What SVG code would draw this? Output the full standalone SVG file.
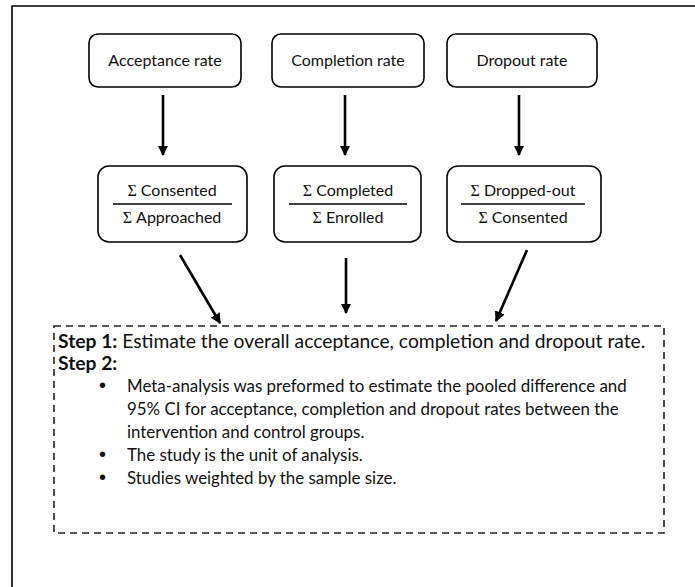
<svg xmlns="http://www.w3.org/2000/svg" width="695" height="587" viewBox="0 0 695 587">
<defs>
<style>
.box{fill:#fff;stroke:#000;stroke-width:1.6}
.t{font-family:Lato,"Open Sans","Liberation Sans",sans-serif;font-size:16px;fill:#111;text-anchor:middle}
.b{font-family:Lato,"Open Sans","Liberation Sans",sans-serif;font-size:16.9px;fill:#111}
.h{font-family:Lato,"Open Sans","Liberation Sans",sans-serif;font-size:19.3px;fill:#111}
.s{font-family:"Liberation Serif",serif}
.bold{font-weight:bold}
.bul{font-family:"Liberation Sans",sans-serif;font-size:20px;fill:#111}
.frac{stroke:#000;stroke-width:1.6}
.arr{stroke:#000;stroke-width:2.6;fill:none;marker-end:url(#ah)}
.dash{fill:none;stroke:#222;stroke-width:1.6;stroke-dasharray:7,5}
</style>
<marker id="ah" viewBox="0 0 10 10" refX="9" refY="5" markerWidth="4" markerHeight="4" orient="auto" markerUnits="strokeWidth">
<path d="M0,0 L10,5 L0,10 z" fill="#000"/>
</marker>
</defs>
<rect width="695" height="587" fill="#fff"/>
<path d="M12,587 V6 H695" fill="none" stroke="#000" stroke-width="1.6"/>

<g id="acceptance-rate">
<rect class="box" x="89" y="34" width="152" height="53" rx="9"/>
<text class="t" x="165" y="66">Acceptance rate</text>
</g>
<g id="completion-rate">
<rect class="box" x="272" y="34" width="152" height="53" rx="9"/>
<text class="t" x="348" y="66">Completion rate</text>
</g>
<g id="dropout-rate">
<rect class="box" x="447" y="34" width="150" height="53" rx="9"/>
<text class="t" x="522" y="66">Dropout rate</text>
</g>

<g id="acceptance-formula">
<rect class="box" x="98" y="166" width="149" height="76" rx="11"/>
<text class="t" x="172" y="196"><tspan class="s">Σ</tspan> Consented</text>
<line class="frac" x1="113" y1="204" x2="232" y2="204"/>
<text class="t" x="172" y="223"><tspan class="s">Σ</tspan> Approached</text>
</g>
<g id="completion-formula">
<rect class="box" x="274" y="166" width="147" height="76" rx="11"/>
<text class="t" x="348" y="196"><tspan class="s">Σ</tspan> Completed</text>
<line class="frac" x1="289" y1="204" x2="407" y2="204"/>
<text class="t" x="348" y="223"><tspan class="s">Σ</tspan> Enrolled</text>
</g>
<g id="dropout-formula">
<rect class="box" x="447" y="166" width="154" height="76" rx="11"/>
<text class="t" x="523" y="196"><tspan class="s">Σ</tspan> Dropped-out</text>
<line class="frac" x1="461" y1="204" x2="585" y2="204"/>
<text class="t" x="523" y="223"><tspan class="s">Σ</tspan> Consented</text>
</g>

<g id="connectors">
<line class="arr" x1="163" y1="95" x2="163" y2="155"/>
<line class="arr" x1="345" y1="95" x2="345" y2="155"/>
<line class="arr" x1="519" y1="95" x2="519" y2="155"/>
<line class="arr" x1="180" y1="255" x2="220" y2="323"/>
<line class="arr" x1="346" y1="258" x2="346" y2="313"/>
<line class="arr" x1="527" y1="250" x2="496" y2="321"/>
</g>

<g id="steps">
<rect class="dash" x="54" y="326" width="610" height="207"/>
<text class="h" x="58" y="348"><tspan class="bold">Step 1:</tspan> Estimate the overall acceptance, completion and dropout rate.</text>
<text class="h bold" x="58" y="370">Step 2:</text>
<text class="bul" x="99" y="392">•</text>
<text class="b" x="127" y="392">Meta-analysis was preformed to estimate the pooled difference and</text>
<text class="b" x="127" y="415">95% CI for acceptance, completion and dropout rates between the</text>
<text class="b" x="127" y="438">intervention and control groups.</text>
<text class="bul" x="99" y="461">•</text>
<text class="b" x="127" y="461">The study is the unit of analysis.</text>
<text class="bul" x="99" y="484">•</text>
<text class="b" x="127" y="484">Studies weighted by the sample size.</text>
</g>
</svg>
